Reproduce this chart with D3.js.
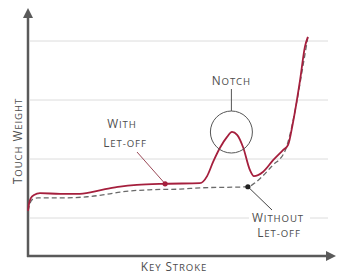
<!DOCTYPE html>
<html>
<head>
<meta charset="utf-8">
<script src="https://cdn.jsdelivr.net/npm/d3@7"></script>
<style>
  body { margin: 0; background: #fff; }
  svg text { font-family: "Open Sans", "DejaVu Sans", sans-serif; fill: #4d4d4d; letter-spacing: 0.9px; }
</style>
</head>
<body>
<div id="chart"></div>
<script>
// Key stroke position (0..100) and touch weight (grid units)
const withStroke = [0, 0.33, 1, 2, 4, 10.7, 17.3, 25, 30.7, 36.3, 45.7, 57.3, 59.7, 61.7, 64, 66.3, 68, 69.7, 71.7, 74, 75.3, 78.3, 81.7, 85, 86.7, 88.3, 90.7, 92.3, 93.3];
const withWeight = [1.12, 1.24, 1.34, 1.39, 1.42, 1.41, 1.41, 1.48, 1.53, 1.56, 1.58, 1.59, 1.71, 1.95, 2.19, 2.37, 2.46, 2.41, 2.20, 1.81, 1.71, 1.78, 1.98, 2.15, 2.24, 2.61, 3.34, 3.90, 4.07];

const withoutStroke = [0, 0.67, 1.67, 3.33, 10.7, 19.7, 27.3, 30.7, 41.7, 50.7, 57.3, 73.3, 76, 78, 81.3, 85.7, 87.3, 89.7, 91.7, 93.3];
const withoutWeight = [1.12, 1.25, 1.32, 1.34, 1.34, 1.36, 1.41, 1.44, 1.48, 1.49, 1.51, 1.53, 1.61, 1.70, 1.88, 2.14, 2.41, 3.0, 3.59, 4.07];

const gridTicks = [1, 2, 3, 4];
const xLabel = "Key Stroke";
const yLabel = "Touch Weight";

const width = 350, height = 279;
const xScale = d3.scaleLinear().domain([0, 100]).range([28, 328]);
const yScale = d3.scaleLinear().domain([0, 4]).range([277, 41]);
const axisY = 256; // pixel row of the key stroke axis

const svg = d3.select("#chart").append("svg")
  .attr("width", width).attr("height", height);

// small caps made by hand: first letter large, rest upper case smaller
function smallCaps(sel, txt, big = 11.8, small = 9.6) {
  txt.split(" ").forEach((w, i) => {
    sel.append("tspan").style("font-size", big + "px").text((i ? " " : "") + w[0].toUpperCase());
    sel.append("tspan").style("font-size", small + "px").text(w.slice(1).toUpperCase());
  });
  return sel;
}

// Mrežne črte
const gapLeft = 249, gapRight = 310;
svg.append("g").selectAll("line")
  .data(gridTicks).enter().append("line")
  .attr("x1", 30).attr("x2", 328)
  .attr("y1", d => yScale(d)).attr("y2", d => yScale(d))
  .attr("stroke", "#dcdcdc").attr("stroke-width", 1);
// gap in lowest grid line for label
svg.append("rect")
  .attr("x", gapLeft).attr("y", yScale(1) - 2).attr("width", gapRight - gapLeft).attr("height", 4)
  .attr("fill", "#fff");

// Osi
svg.append("defs").append("marker")
  .attr("id", "arrow").attr("viewBox", "0 0 10 10")
  .attr("refX", 1).attr("refY", 5)
  .attr("markerWidth", 4).attr("markerHeight", 4)
  .attr("orient", "auto")
  .append("path").attr("d", "M0,0 L10,5 L0,10 Z").attr("fill", "#5a5a5a");

svg.append("line")
  .attr("x1", xScale(0)).attr("x2", xScale(0))
  .attr("y1", axisY + 1).attr("y2", 17)
  .attr("stroke", "#5a5a5a").attr("stroke-width", 2.5)
  .attr("marker-end", "url(#arrow)");
svg.append("line")
  .attr("x1", xScale(0) - 1).attr("x2", 327)
  .attr("y1", axisY).attr("y2", axisY)
  .attr("stroke", "#5a5a5a").attr("stroke-width", 2.5)
  .attr("marker-end", "url(#arrow)");

// Krivulje
const line = d3.line()
  .x(d => xScale(d[0])).y(d => yScale(d[1]))
  .curve(d3.curveMonotoneX);

svg.append("path")
  .datum(d3.zip(withoutStroke, withoutWeight))
  .attr("d", line)
  .attr("fill", "none").attr("stroke", "#6a6a6a")
  .attr("stroke-width", 1.3).attr("stroke-dasharray", "5,3");

svg.append("path")
  .datum(d3.zip(withStroke, withWeight))
  .attr("d", line)
  .attr("fill", "none").attr("stroke", "#a51f3d")
  .attr("stroke-width", 1.8);

// Oznake in opisi
const withMark = [45.7, 1.58];
const withoutMark = [73.3, 1.53];

svg.append("line")
  .attr("x1", 137).attr("y1", 152)
  .attr("x2", xScale(withMark[0])).attr("y2", yScale(withMark[1]))
  .attr("stroke", "#9b4a58").attr("stroke-width", 1);
svg.append("circle")
  .attr("cx", xScale(withMark[0])).attr("cy", yScale(withMark[1]))
  .attr("r", 2.6).attr("fill", "#a51f3d");

svg.append("line")
  .attr("x1", 272).attr("y1", 210)
  .attr("x2", xScale(withoutMark[0])).attr("y2", yScale(withoutMark[1]))
  .attr("stroke", "#444").attr("stroke-width", 1);
svg.append("circle")
  .attr("cx", xScale(withoutMark[0])).attr("cy", yScale(withoutMark[1]))
  .attr("r", 2.6).attr("fill", "#222");

// Notch circle
const notchX = xScale(67.8), notchY = 132;
svg.append("circle")
  .attr("cx", notchX).attr("cy", notchY).attr("r", 21)
  .attr("fill", "none").attr("stroke", "#555").attr("stroke-width", 1);
svg.append("line")
  .attr("x1", notchX).attr("x2", notchX)
  .attr("y1", 89).attr("y2", notchY - 21)
  .attr("stroke", "#555").attr("stroke-width", 1);

smallCaps(svg.append("text").attr("x", notchX).attr("y", 85).attr("text-anchor", "middle"), "Notch");
smallCaps(svg.append("text").attr("x", 122).attr("y", 128).attr("text-anchor", "middle"), "With");
smallCaps(svg.append("text").attr("x", 125).attr("y", 147).attr("text-anchor", "middle"), "Let-off");
smallCaps(svg.append("text").attr("x", 278).attr("y", 222).attr("text-anchor", "middle"), "Without");
smallCaps(svg.append("text").attr("x", 279).attr("y", 237).attr("text-anchor", "middle"), "Let-off");

smallCaps(svg.append("text").attr("x", 174).attr("y", 271).attr("text-anchor", "middle"), xLabel);
smallCaps(svg.append("text")
  .attr("transform", "translate(22,141) rotate(-90)")
  .attr("text-anchor", "middle"), yLabel);
</script>
</body>
</html>
